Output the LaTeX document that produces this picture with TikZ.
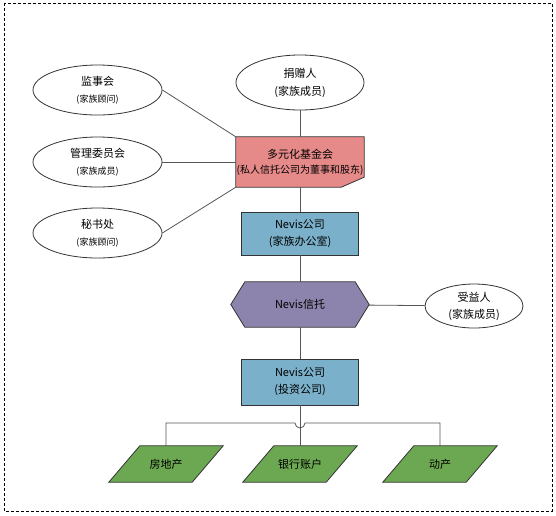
\documentclass[tikz,border=0pt]{standalone}
\usepackage{fontspec}
\setmainfont{Noto Sans CJK SC}
\usetikzlibrary{shapes.geometric,backgrounds,calc}
\definecolor{fundred}{HTML}{E68A89}
\definecolor{officeblue}{HTML}{7AB0C9}
\definecolor{trustpurple}{HTML}{8C84AC}
\definecolor{assetgreen}{HTML}{6CA851}
\definecolor{edgegray}{HTML}{555555}

\begin{document}
\begin{tikzpicture}
  [x=1pt, y=-1pt,
  line/.style={draw=edgegray, line width=0.8pt},
  outline/.style={draw=black!80, line width=0.8pt},
  person/.style={ellipse, outline, fill=white, inner sep=0pt, align=center,
    minimum width=129pt, minimum height=50pt, font=\fontsize{11}{13}\selectfont},
  block/.style={rectangle, outline, fill=officeblue, inner sep=0pt, align=center,
    minimum width=117pt, minimum height=43pt, font=\fontsize{11}{13}\selectfont},
  shapebox/.style={rectangle, inner sep=0pt, align=center, font=\fontsize{11}{13}\selectfont}]
  \useasboundingbox (0,0) rectangle (556,515);
  \draw [black, line width=0.8pt, dash pattern=on 3pt off 2pt] (4,3) rectangle (552,511);
  % nodes
  \node [person, minimum width=128pt, minimum height=55pt] (donor) at (300,82.5)
    {捐赠人\\[5pt](家族成员)};
  \node [person] (supervise) at (97.5,90) {监事会\\[4pt]{\fontsize{9}{10}\selectfont (家族顾问)}};
  \node [person] (committee) at (97.5,162) {管理委员会\\[4pt]{\fontsize{9}{10}\selectfont (家族成员)}};
  \node [person] (secretary) at (97.5,233) {秘书处\\[4pt]{\fontsize{9}{10}\selectfont (家族顾问)}};
  \node [shapebox, minimum width=128pt, minimum height=50pt] (fund) at (300,162)
    {多元化基金会\\[2pt]{\fontsize{10}{12}\selectfont (私人信托公司为董事和股东)}};
  \node [block] (office) at (300,233.5) {Nevis公司\\[4pt](家族办公室)};
  \node [shapebox, minimum width=138pt, minimum height=45pt] (trust) at (300,304.5) {Nevis信托};
  \node [person, minimum width=98pt, minimum height=44pt] (beneficiary) at (474,306)
    {受益人\\[4pt](家族成员)};
  \node [block, minimum height=46pt] (invest) at (300,382) {Nevis公司\\[4pt](投资公司)};
  \node [shapebox, minimum width=114pt, minimum height=36pt] (estate) at (166,464) {房地产};
  \node [shapebox, minimum width=114pt, minimum height=36pt] (bank) at (300,464) {银行账户};
  \node [shapebox, minimum width=114pt, minimum height=36pt] (move) at (440,464) {动产};
  \coordinate (bus) at (300,423);
  % shapes behind the texts
  \begin{scope}[on background layer]
    \path [outline, fill=fundred] (fund.north west) -- (fund.north east)
      -- ($(fund.south east)+(0,-10)$) -- ($(fund.south east)+(-23,0)$)
      -- (fund.south west) -- cycle;
    \path [outline, fill=trustpurple] (trust.west) -- ($(trust.north west)+(14,0)$)
      -- ($(trust.north east)+(-14,0)$) -- (trust.east)
      -- ($(trust.south east)+(-14,0)$) -- ($(trust.south west)+(14,0)$) -- cycle;
    \path [outline, fill=assetgreen] ($(estate.north west)+(31,0)$) -- (estate.north east)
      -- ($(estate.south east)+(-31,0)$) -- (estate.south west) -- cycle;
    \path [outline, fill=assetgreen] ($(bank.north west)+(31,0)$) -- (bank.north east)
      -- ($(bank.south east)+(-31,0)$) -- (bank.south west) -- cycle;
    \path [outline, fill=assetgreen] ($(move.north west)+(31,0)$) -- (move.north east)
      -- ($(move.south east)+(-31,0)$) -- (move.south west) -- cycle;
  \end{scope}
  % edges
  \path [line] (donor) -- (fund);
  \path [line] (supervise.east) -- (fund.north west);
  \path [line] (committee) -- (fund);
  \path [line] (secretary.east) -- (fund.south west);
  \path [line] (fund) -- (office);
  \path [line] (office) -- (trust);
  \path [line] (trust) -- (beneficiary);
  \path [line] (trust) -- (invest);
  \path [line] (invest) -- (bank);
  \path [line] (estate.north) |- ($(bus)+(-5,0)$) arc [start angle=180, end angle=360, radius=5pt]
    -| (move.north);
\end{tikzpicture}
\end{document}
